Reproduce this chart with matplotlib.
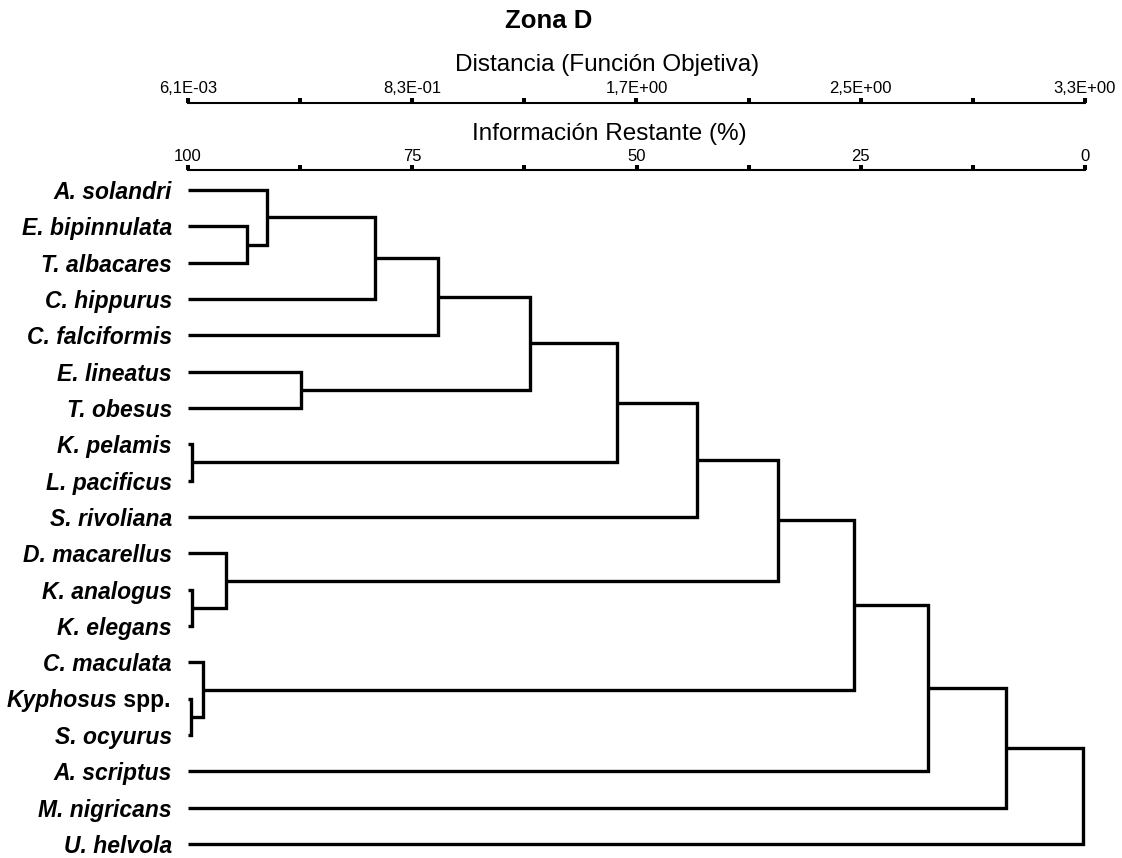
import matplotlib
matplotlib.use("Agg")
import matplotlib.pyplot as plt
from matplotlib.offsetbox import TextArea, HPacker, AnnotationBbox

plt.rcParams['font.family'] = ['Liberation Sans', 'DejaVu Sans']

W, H = 1122, 858

# leaves, top to bottom
species = ["A. solandri", "E. bipinnulata", "T. albacares", "C. hippurus",
           "C. falciformis", "E. lineatus", "T. obesus", "K. pelamis",
           "L. pacificus", "S. rivoliana", "D. macarellus", "K. analogus",
           "K. elegans", "C. maculata", "Kyphosus spp.", "S. ocyurus",
           "A. scriptus", "M. nigricans", "U. helvola"]

# merges: ids 0-18 are leaves, 19+ are the merges in this order
merge_a = [1, 0, 20, 21, 5, 22, 7, 24, 26, 11, 10, 27, 14, 13, 30, 33, 34, 35]
merge_b = [2, 19, 3, 4, 6, 23, 8, 25, 9, 12, 28, 29, 15, 31, 32, 16, 17, 18]
merge_info = [93.4, 91.2, 79.2, 72.1, 87.4, 61.9, 99.6, 52.2, 43.2,
              99.6, 95.8, 34.2, 99.7, 98.3, 25.7, 17.5, 8.8, 0.2]

info_ticks = [100, 75, 50, 25, 0]
info_minor = [87.5, 62.5, 37.5, 12.5]
dist_min, dist_max = 0.0061, 3.3
dist_ticks = [0.0061, 0.829, 1.653, 2.476, 3.3]
dist_minor = [0.418, 1.241, 2.065, 2.888]
dist_labels = ["6,1E-03", "8,3E-01", "1,7E+00", "2,5E+00", "3,3E+00"]

fig = plt.figure(figsize=(W / 100, H / 100), dpi=100)

# dendrogram
ax = fig.add_axes([188 / W, 1 - 844 / H, 897 / W, (844 - 190) / H])
ax.set_xlim(100, 0)
ax.set_ylim(len(species) - 1, 0)
for s in ax.spines.values():
    s.set_visible(False)
ax.set_xticks([])

node_x = [100.0] * len(species)
node_y = list(range(len(species)))
for a, b, h in zip(merge_a, merge_b, merge_info):
    ax.plot([node_x[a], h, h, node_x[b]], [node_y[a], node_y[a], node_y[b], node_y[b]],
            color='black', lw=2.4, solid_joinstyle='miter', solid_capstyle='butt',
            clip_on=False)
    node_x.append(h)
    node_y.append((node_y[a] + node_y[b]) / 2)

fs = 16.5
labels = [("" if s.startswith("Kyphosus") else s) for s in species]
ax.set_yticks(range(len(species)), labels)
ax.tick_params(axis='y', length=0, pad=11.5, labelsize=fs)
for t in ax.get_yticklabels():
    t.set_fontweight('bold')
    t.set_fontstyle('italic')

# Kyphosus spp. (genus italic, spp. upright)
k = species.index("Kyphosus spp.")
box = HPacker(children=[
    TextArea("Kyphosus", textprops=dict(fontsize=fs, fontweight='bold', fontstyle='italic')),
    TextArea(" spp.", textprops=dict(fontsize=fs, fontweight='bold'))],
    align="baseline", pad=0, sep=0)
ab = AnnotationBbox(box, (0, k), xycoords=ax.get_yaxis_transform(),
                    xybox=(-12.5, -1.5), boxcoords="offset points",
                    box_alignment=(1, 0.5), frameon=False, annotation_clip=False)
ax.add_artist(ab)


def scale_axis(ypx, lo, hi, ticks, minor, tlabels):
    a = fig.add_axes([188 / W, 1 - ypx / H, 897 / W, 1e-5])
    a.set_xlim(lo, hi)
    a.set_yticks([])
    for name, s in a.spines.items():
        s.set_visible(name == 'top')
    a.spines['top'].set_linewidth(1.5)
    a.xaxis.tick_top()
    a.set_xticks(ticks, tlabels)
    a.set_xticks(minor, minor=True)
    a.tick_params(which='both', direction='out', length=3.8, width=2.9, pad=1,
                  labelsize=12)
    return a


scale_axis(103, dist_min, dist_max, dist_ticks, dist_minor, dist_labels)
scale_axis(170.5, 100, 0, info_ticks, info_minor, [str(v) for v in info_ticks])

fig.text(549 / W, 1 - 28.5 / H, "Zona D", ha='center', va='baseline',
         fontsize=18.5, fontweight='bold')
fig.text(607 / W, 1 - 71.5 / H, "Distancia (Función Objetiva)", ha='center',
         va='baseline', fontsize=17.5)
fig.text(609 / W, 1 - 140 / H, "Información Restante (%)", ha='center',
         va='baseline', fontsize=17.5)

fig.savefig("out.png", dpi=100)
